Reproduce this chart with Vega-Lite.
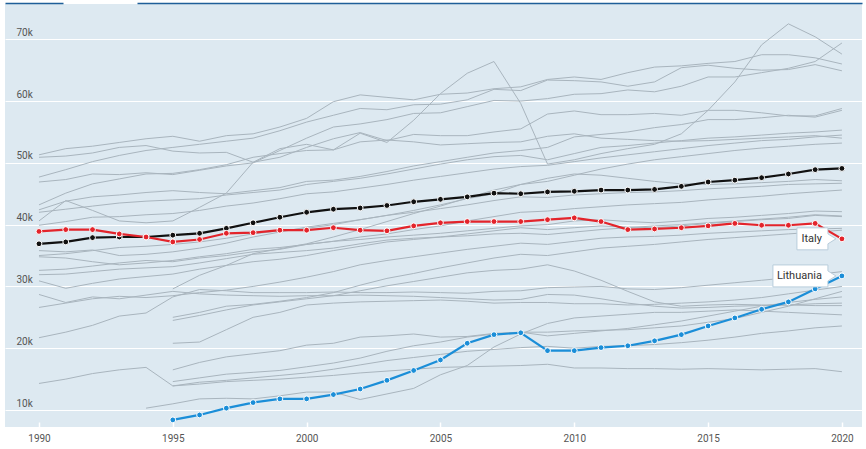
{
"$schema": "https://vega.github.io/schema/vega-lite/v6.json",
"width": 857, "height": 423,
"autosize": {"type": "none"},
"padding": {"left": 5, "top": 4, "right": 4, "bottom": 22},
"background": "#ffffff",
"config": {"view": {"fill": "#dde9f1", "stroke": null}, "font": "Roboto", "axis": {"labelFont": "Roboto"}},
"datasets": {
"grey": [
{"country":"c01","year":1990,"value":51.3},{"country":"c01","year":1991,"value":52.3},{"country":"c01","year":1992,"value":52.7},{"country":"c01","year":1993,"value":53.3},{"country":"c01","year":1994,"value":53.9},{"country":"c01","year":1995,"value":54.3},{"country":"c01","year":1996,"value":53.5},{"country":"c01","year":1997,"value":54.4},{"country":"c01","year":1998,"value":54.7},{"country":"c01","year":1999,"value":55.8},{"country":"c01","year":2000,"value":57.2},{"country":"c01","year":2001,"value":59.9},{"country":"c01","year":2002,"value":61.0},{"country":"c01","year":2003,"value":60.6},{"country":"c01","year":2004,"value":60.2},{"country":"c01","year":2005,"value":61.1},{"country":"c01","year":2006,"value":61.3},{"country":"c01","year":2007,"value":62.0},{"country":"c01","year":2008,"value":62.3},{"country":"c01","year":2009,"value":63.5},{"country":"c01","year":2010,"value":63.9},{"country":"c01","year":2011,"value":63.5},{"country":"c01","year":2012,"value":64.6},{"country":"c01","year":2013,"value":65.5},{"country":"c01","year":2014,"value":65.7},{"country":"c01","year":2015,"value":66.1},{"country":"c01","year":2016,"value":66.4},{"country":"c01","year":2017,"value":67.5},{"country":"c01","year":2018,"value":67.5},{"country":"c01","year":2019,"value":67.0},{"country":"c01","year":2020,"value":66.0},
{"country":"c02","year":1990,"value":47.7},{"country":"c02","year":1991,"value":48.9},{"country":"c02","year":1992,"value":50.2},{"country":"c02","year":1993,"value":51.2},{"country":"c02","year":1994,"value":52.0},{"country":"c02","year":1995,"value":52.5},{"country":"c02","year":1996,"value":53.0},{"country":"c02","year":1997,"value":53.5},{"country":"c02","year":1998,"value":54.0},{"country":"c02","year":1999,"value":55.2},{"country":"c02","year":2000,"value":56.6},{"country":"c02","year":2001,"value":57.7},{"country":"c02","year":2002,"value":58.8},{"country":"c02","year":2003,"value":58.6},{"country":"c02","year":2004,"value":59.4},{"country":"c02","year":2005,"value":59.5},{"country":"c02","year":2006,"value":60.2},{"country":"c02","year":2007,"value":61.9},{"country":"c02","year":2008,"value":61.7},{"country":"c02","year":2009,"value":63.4},{"country":"c02","year":2010,"value":63.3},{"country":"c02","year":2011,"value":63.1},{"country":"c02","year":2012,"value":62.4},{"country":"c02","year":2013,"value":63.1},{"country":"c02","year":2014,"value":65.4},{"country":"c02","year":2015,"value":65.8},{"country":"c02","year":2016,"value":65.3},{"country":"c02","year":2017,"value":65.0},{"country":"c02","year":2018,"value":65.1},{"country":"c02","year":2019,"value":65.9},{"country":"c02","year":2020,"value":64.9},
{"country":"c03","year":1990,"value":46.9},{"country":"c03","year":1991,"value":47.3},{"country":"c03","year":1992,"value":48.2},{"country":"c03","year":1993,"value":48.1},{"country":"c03","year":1994,"value":48.4},{"country":"c03","year":1995,"value":48.1},{"country":"c03","year":1996,"value":48.8},{"country":"c03","year":1997,"value":49.5},{"country":"c03","year":1998,"value":50.0},{"country":"c03","year":1999,"value":52.0},{"country":"c03","year":2000,"value":54.0},{"country":"c03","year":2001,"value":55.8},{"country":"c03","year":2002,"value":56.3},{"country":"c03","year":2003,"value":57.0},{"country":"c03","year":2004,"value":58.0},{"country":"c03","year":2005,"value":58.1},{"country":"c03","year":2006,"value":59.1},{"country":"c03","year":2007,"value":60.1},{"country":"c03","year":2008,"value":60.0},{"country":"c03","year":2009,"value":60.4},{"country":"c03","year":2010,"value":61.1},{"country":"c03","year":2011,"value":61.2},{"country":"c03","year":2012,"value":61.8},{"country":"c03","year":2013,"value":61.5},{"country":"c03","year":2014,"value":62.4},{"country":"c03","year":2015,"value":63.9},{"country":"c03","year":2016,"value":63.9},{"country":"c03","year":2017,"value":64.6},{"country":"c03","year":2018,"value":65.3},{"country":"c03","year":2019,"value":66.4},{"country":"c03","year":2020,"value":69.4},
{"country":"c04","year":1990,"value":43.2},{"country":"c04","year":1991,"value":45.1},{"country":"c04","year":1992,"value":46.6},{"country":"c04","year":1993,"value":47.4},{"country":"c04","year":1994,"value":48.2},{"country":"c04","year":1995,"value":48.3},{"country":"c04","year":1996,"value":48.9},{"country":"c04","year":1997,"value":49.7},{"country":"c04","year":1998,"value":50.9},{"country":"c04","year":1999,"value":51.5},{"country":"c04","year":2000,"value":52.0},{"country":"c04","year":2001,"value":52.1},{"country":"c04","year":2002,"value":54.8},{"country":"c04","year":2003,"value":53.3},{"country":"c04","year":2004,"value":56.9},{"country":"c04","year":2005,"value":61.2},{"country":"c04","year":2006,"value":64.5},{"country":"c04","year":2007,"value":66.4},{"country":"c04","year":2008,"value":59.6},{"country":"c04","year":2009,"value":49.8},{"country":"c04","year":2010,"value":50.5},{"country":"c04","year":2011,"value":51.5},{"country":"c04","year":2012,"value":52.3},{"country":"c04","year":2013,"value":53.0},{"country":"c04","year":2014,"value":54.7},{"country":"c04","year":2015,"value":58.5},{"country":"c04","year":2016,"value":63.1},{"country":"c04","year":2017,"value":69.1},{"country":"c04","year":2018,"value":72.5},{"country":"c04","year":2019,"value":70.4},{"country":"c04","year":2020,"value":67.6},
{"country":"c05","year":1990,"value":50.9},{"country":"c05","year":1991,"value":51.1},{"country":"c05","year":1992,"value":51.6},{"country":"c05","year":1993,"value":52.5},{"country":"c05","year":1994,"value":52.8},{"country":"c05","year":1995,"value":51.9},{"country":"c05","year":1996,"value":51.6},{"country":"c05","year":1997,"value":51.7},{"country":"c05","year":1998,"value":50.1},{"country":"c05","year":1999,"value":50.9},{"country":"c05","year":2000,"value":52.5},{"country":"c05","year":2001,"value":53.9},{"country":"c05","year":2002,"value":54.9},{"country":"c05","year":2003,"value":53.6},{"country":"c05","year":2004,"value":54.6},{"country":"c05","year":2005,"value":54.4},{"country":"c05","year":2006,"value":54.4},{"country":"c05","year":2007,"value":55.0},{"country":"c05","year":2008,"value":55.5},{"country":"c05","year":2009,"value":57.9},{"country":"c05","year":2010,"value":58.4},{"country":"c05","year":2011,"value":57.8},{"country":"c05","year":2012,"value":57.8},{"country":"c05","year":2013,"value":58.0},{"country":"c05","year":2014,"value":57.7},{"country":"c05","year":2015,"value":58.5},{"country":"c05","year":2016,"value":58.5},{"country":"c05","year":2017,"value":58.1},{"country":"c05","year":2018,"value":57.6},{"country":"c05","year":2019,"value":57.6},{"country":"c05","year":2020,"value":58.8},
{"country":"c06","year":1990,"value":42.4},{"country":"c06","year":1991,"value":43.8},{"country":"c06","year":1992,"value":44.5},{"country":"c06","year":1993,"value":44.8},{"country":"c06","year":1994,"value":45.2},{"country":"c06","year":1995,"value":45.5},{"country":"c06","year":1996,"value":45.2},{"country":"c06","year":1997,"value":45.0},{"country":"c06","year":1998,"value":45.5},{"country":"c06","year":1999,"value":46.0},{"country":"c06","year":2000,"value":47.0},{"country":"c06","year":2001,"value":47.2},{"country":"c06","year":2002,"value":47.8},{"country":"c06","year":2003,"value":48.6},{"country":"c06","year":2004,"value":49.5},{"country":"c06","year":2005,"value":50.2},{"country":"c06","year":2006,"value":50.9},{"country":"c06","year":2007,"value":51.6},{"country":"c06","year":2008,"value":52.0},{"country":"c06","year":2009,"value":52.5},{"country":"c06","year":2010,"value":54.2},{"country":"c06","year":2011,"value":54.6},{"country":"c06","year":2012,"value":55.0},{"country":"c06","year":2013,"value":55.7},{"country":"c06","year":2014,"value":56.2},{"country":"c06","year":2015,"value":57.0},{"country":"c06","year":2016,"value":57.0},{"country":"c06","year":2017,"value":57.3},{"country":"c06","year":2018,"value":57.7},{"country":"c06","year":2019,"value":57.4},{"country":"c06","year":2020,"value":58.5},
{"country":"c07","year":1990,"value":40.6},{"country":"c07","year":1991,"value":43.9},{"country":"c07","year":1992,"value":42.3},{"country":"c07","year":1993,"value":40.6},{"country":"c07","year":1994,"value":40.3},{"country":"c07","year":1995,"value":40.6},{"country":"c07","year":1996,"value":42.8},{"country":"c07","year":1997,"value":45.1},{"country":"c07","year":1998,"value":50.1},{"country":"c07","year":1999,"value":52.3},{"country":"c07","year":2000,"value":53.0},{"country":"c07","year":2001,"value":52.1},{"country":"c07","year":2002,"value":53.4},{"country":"c07","year":2003,"value":53.7},{"country":"c07","year":2004,"value":53.4},{"country":"c07","year":2005,"value":52.9},{"country":"c07","year":2006,"value":53.1},{"country":"c07","year":2007,"value":53.3},{"country":"c07","year":2008,"value":53.4},{"country":"c07","year":2009,"value":54.3},{"country":"c07","year":2010,"value":54.7},{"country":"c07","year":2011,"value":54.0},{"country":"c07","year":2012,"value":53.8},{"country":"c07","year":2013,"value":53.6},{"country":"c07","year":2014,"value":53.5},{"country":"c07","year":2015,"value":53.6},{"country":"c07","year":2016,"value":53.8},{"country":"c07","year":2017,"value":54.0},{"country":"c07","year":2018,"value":54.2},{"country":"c07","year":2019,"value":54.4},{"country":"c07","year":2020,"value":54.0},
{"country":"c08","year":1990,"value":42.0},{"country":"c08","year":1991,"value":42.5},{"country":"c08","year":1992,"value":43.0},{"country":"c08","year":1993,"value":43.5},{"country":"c08","year":1994,"value":43.8},{"country":"c08","year":1995,"value":44.0},{"country":"c08","year":1996,"value":44.2},{"country":"c08","year":1997,"value":44.8},{"country":"c08","year":1998,"value":45.2},{"country":"c08","year":1999,"value":45.6},{"country":"c08","year":2000,"value":46.5},{"country":"c08","year":2001,"value":47.0},{"country":"c08","year":2002,"value":47.5},{"country":"c08","year":2003,"value":48.2},{"country":"c08","year":2004,"value":49.0},{"country":"c08","year":2005,"value":49.8},{"country":"c08","year":2006,"value":50.5},{"country":"c08","year":2007,"value":51.0},{"country":"c08","year":2008,"value":51.2},{"country":"c08","year":2009,"value":50.5},{"country":"c08","year":2010,"value":51.5},{"country":"c08","year":2011,"value":52.5},{"country":"c08","year":2012,"value":52.8},{"country":"c08","year":2013,"value":53.2},{"country":"c08","year":2014,"value":53.6},{"country":"c08","year":2015,"value":54.0},{"country":"c08","year":2016,"value":54.2},{"country":"c08","year":2017,"value":54.5},{"country":"c08","year":2018,"value":54.8},{"country":"c08","year":2019,"value":55.0},{"country":"c08","year":2020,"value":55.3},
{"country":"c09","year":1990,"value":39.9},{"country":"c09","year":1991,"value":40.5},{"country":"c09","year":1992,"value":41.2},{"country":"c09","year":1993,"value":41.3},{"country":"c09","year":1994,"value":41.6},{"country":"c09","year":1995,"value":41.8},{"country":"c09","year":1996,"value":42.3},{"country":"c09","year":1997,"value":43.0},{"country":"c09","year":1998,"value":43.5},{"country":"c09","year":1999,"value":44.2},{"country":"c09","year":2000,"value":45.0},{"country":"c09","year":2001,"value":45.3},{"country":"c09","year":2002,"value":45.9},{"country":"c09","year":2003,"value":46.5},{"country":"c09","year":2004,"value":47.2},{"country":"c09","year":2005,"value":47.8},{"country":"c09","year":2006,"value":48.4},{"country":"c09","year":2007,"value":49.0},{"country":"c09","year":2008,"value":49.4},{"country":"c09","year":2009,"value":49.6},{"country":"c09","year":2010,"value":50.2},{"country":"c09","year":2011,"value":50.8},{"country":"c09","year":2012,"value":51.3},{"country":"c09","year":2013,"value":51.8},{"country":"c09","year":2014,"value":52.3},{"country":"c09","year":2015,"value":52.8},{"country":"c09","year":2016,"value":53.2},{"country":"c09","year":2017,"value":53.6},{"country":"c09","year":2018,"value":53.8},{"country":"c09","year":2019,"value":54.2},{"country":"c09","year":2020,"value":54.5},
{"country":"c10","year":1995,"value":29.6},{"country":"c10","year":1996,"value":31.8},{"country":"c10","year":1997,"value":33.4},{"country":"c10","year":1998,"value":35.3},{"country":"c10","year":1999,"value":36.1},{"country":"c10","year":2000,"value":36.9},{"country":"c10","year":2001,"value":38.0},{"country":"c10","year":2002,"value":39.2},{"country":"c10","year":2003,"value":40.5},{"country":"c10","year":2004,"value":41.8},{"country":"c10","year":2005,"value":43.0},{"country":"c10","year":2006,"value":44.3},{"country":"c10","year":2007,"value":45.6},{"country":"c10","year":2008,"value":46.5},{"country":"c10","year":2009,"value":47.0},{"country":"c10","year":2010,"value":48.0},{"country":"c10","year":2011,"value":49.0},{"country":"c10","year":2012,"value":49.8},{"country":"c10","year":2013,"value":50.5},{"country":"c10","year":2014,"value":51.0},{"country":"c10","year":2015,"value":51.5},{"country":"c10","year":2016,"value":52.0},{"country":"c10","year":2017,"value":52.4},{"country":"c10","year":2018,"value":52.7},{"country":"c10","year":2019,"value":53.0},{"country":"c10","year":2020,"value":53.2},
{"country":"c11","year":1990,"value":35.8},{"country":"c11","year":1991,"value":35.6},{"country":"c11","year":1992,"value":35.9},{"country":"c11","year":1993,"value":35.0},{"country":"c11","year":1994,"value":35.2},{"country":"c11","year":1995,"value":35.6},{"country":"c11","year":1996,"value":36.2},{"country":"c11","year":1997,"value":37.0},{"country":"c11","year":1998,"value":38.0},{"country":"c11","year":1999,"value":38.8},{"country":"c11","year":2000,"value":39.6},{"country":"c11","year":2001,"value":40.2},{"country":"c11","year":2002,"value":40.8},{"country":"c11","year":2003,"value":41.5},{"country":"c11","year":2004,"value":42.3},{"country":"c11","year":2005,"value":43.2},{"country":"c11","year":2006,"value":44.2},{"country":"c11","year":2007,"value":45.0},{"country":"c11","year":2008,"value":46.5},{"country":"c11","year":2009,"value":47.5},{"country":"c11","year":2010,"value":48.2},{"country":"c11","year":2011,"value":48.0},{"country":"c11","year":2012,"value":47.5},{"country":"c11","year":2013,"value":47.0},{"country":"c11","year":2014,"value":46.6},{"country":"c11","year":2015,"value":46.5},{"country":"c11","year":2016,"value":46.6},{"country":"c11","year":2017,"value":46.8},{"country":"c11","year":2018,"value":47.0},{"country":"c11","year":2019,"value":47.3},{"country":"c11","year":2020,"value":47.1},
{"country":"c12","year":1990,"value":35.0},{"country":"c12","year":1991,"value":35.3},{"country":"c12","year":1992,"value":35.8},{"country":"c12","year":1993,"value":36.3},{"country":"c12","year":1994,"value":36.5},{"country":"c12","year":1995,"value":36.8},{"country":"c12","year":1996,"value":37.2},{"country":"c12","year":1997,"value":37.8},{"country":"c12","year":1998,"value":38.5},{"country":"c12","year":1999,"value":39.0},{"country":"c12","year":2000,"value":39.4},{"country":"c12","year":2001,"value":40.0},{"country":"c12","year":2002,"value":40.8},{"country":"c12","year":2003,"value":41.5},{"country":"c12","year":2004,"value":42.0},{"country":"c12","year":2005,"value":42.6},{"country":"c12","year":2006,"value":43.2},{"country":"c12","year":2007,"value":43.9},{"country":"c12","year":2008,"value":44.5},{"country":"c12","year":2009,"value":44.4},{"country":"c12","year":2010,"value":44.8},{"country":"c12","year":2011,"value":45.0},{"country":"c12","year":2012,"value":45.2},{"country":"c12","year":2013,"value":45.3},{"country":"c12","year":2014,"value":45.5},{"country":"c12","year":2015,"value":45.8},{"country":"c12","year":2016,"value":46.0},{"country":"c12","year":2017,"value":46.2},{"country":"c12","year":2018,"value":46.5},{"country":"c12","year":2019,"value":46.6},{"country":"c12","year":2020,"value":46.7},
{"country":"c13","year":1990,"value":34.8},{"country":"c13","year":1991,"value":34.6},{"country":"c13","year":1992,"value":34.0},{"country":"c13","year":1993,"value":33.5},{"country":"c13","year":1994,"value":33.8},{"country":"c13","year":1995,"value":34.2},{"country":"c13","year":1996,"value":34.8},{"country":"c13","year":1997,"value":35.3},{"country":"c13","year":1998,"value":36.0},{"country":"c13","year":1999,"value":36.3},{"country":"c13","year":2000,"value":36.8},{"country":"c13","year":2001,"value":37.3},{"country":"c13","year":2002,"value":38.0},{"country":"c13","year":2003,"value":38.5},{"country":"c13","year":2004,"value":39.2},{"country":"c13","year":2005,"value":39.8},{"country":"c13","year":2006,"value":40.6},{"country":"c13","year":2007,"value":41.3},{"country":"c13","year":2008,"value":42.0},{"country":"c13","year":2009,"value":42.2},{"country":"c13","year":2010,"value":42.6},{"country":"c13","year":2011,"value":42.9},{"country":"c13","year":2012,"value":43.2},{"country":"c13","year":2013,"value":43.4},{"country":"c13","year":2014,"value":43.6},{"country":"c13","year":2015,"value":44.0},{"country":"c13","year":2016,"value":44.3},{"country":"c13","year":2017,"value":44.6},{"country":"c13","year":2018,"value":45.0},{"country":"c13","year":2019,"value":45.3},{"country":"c13","year":2020,"value":45.6},
{"country":"c14","year":1990,"value":32.6},{"country":"c14","year":1991,"value":32.8},{"country":"c14","year":1992,"value":33.3},{"country":"c14","year":1993,"value":33.8},{"country":"c14","year":1994,"value":34.2},{"country":"c14","year":1995,"value":34.0},{"country":"c14","year":1996,"value":34.6},{"country":"c14","year":1997,"value":35.0},{"country":"c14","year":1998,"value":35.6},{"country":"c14","year":1999,"value":36.0},{"country":"c14","year":2000,"value":36.8},{"country":"c14","year":2001,"value":37.3},{"country":"c14","year":2002,"value":37.6},{"country":"c14","year":2003,"value":38.0},{"country":"c14","year":2004,"value":38.3},{"country":"c14","year":2005,"value":38.6},{"country":"c14","year":2006,"value":39.0},{"country":"c14","year":2007,"value":39.4},{"country":"c14","year":2008,"value":39.8},{"country":"c14","year":2009,"value":40.0},{"country":"c14","year":2010,"value":40.6},{"country":"c14","year":2011,"value":40.8},{"country":"c14","year":2012,"value":40.5},{"country":"c14","year":2013,"value":40.3},{"country":"c14","year":2014,"value":40.6},{"country":"c14","year":2015,"value":41.0},{"country":"c14","year":2016,"value":41.2},{"country":"c14","year":2017,"value":41.5},{"country":"c14","year":2018,"value":41.8},{"country":"c14","year":2019,"value":42.2},{"country":"c14","year":2020,"value":42.1},
{"country":"c15","year":1990,"value":31.9},{"country":"c15","year":1991,"value":32.0},{"country":"c15","year":1992,"value":32.4},{"country":"c15","year":1993,"value":32.8},{"country":"c15","year":1994,"value":33.0},{"country":"c15","year":1995,"value":33.2},{"country":"c15","year":1996,"value":33.8},{"country":"c15","year":1997,"value":34.5},{"country":"c15","year":1998,"value":35.2},{"country":"c15","year":1999,"value":35.5},{"country":"c15","year":2000,"value":35.8},{"country":"c15","year":2001,"value":36.2},{"country":"c15","year":2002,"value":36.9},{"country":"c15","year":2003,"value":37.5},{"country":"c15","year":2004,"value":37.8},{"country":"c15","year":2005,"value":38.0},{"country":"c15","year":2006,"value":38.2},{"country":"c15","year":2007,"value":38.5},{"country":"c15","year":2008,"value":38.6},{"country":"c15","year":2009,"value":38.4},{"country":"c15","year":2010,"value":38.8},{"country":"c15","year":2011,"value":39.2},{"country":"c15","year":2012,"value":39.5},{"country":"c15","year":2013,"value":39.8},{"country":"c15","year":2014,"value":40.0},{"country":"c15","year":2015,"value":40.3},{"country":"c15","year":2016,"value":40.6},{"country":"c15","year":2017,"value":40.9},{"country":"c15","year":2018,"value":41.2},{"country":"c15","year":2019,"value":41.6},{"country":"c15","year":2020,"value":41.4},
{"country":"c16","year":1990,"value":30.9},{"country":"c16","year":1991,"value":29.7},{"country":"c16","year":1992,"value":30.5},{"country":"c16","year":1993,"value":31.2},{"country":"c16","year":1994,"value":31.6},{"country":"c16","year":1995,"value":32.0},{"country":"c16","year":1996,"value":32.8},{"country":"c16","year":1997,"value":33.4},{"country":"c16","year":1998,"value":34.0},{"country":"c16","year":1999,"value":34.4},{"country":"c16","year":2000,"value":35.0},{"country":"c16","year":2001,"value":35.8},{"country":"c16","year":2002,"value":36.5},{"country":"c16","year":2003,"value":37.2},{"country":"c16","year":2004,"value":37.6},{"country":"c16","year":2005,"value":38.0},{"country":"c16","year":2006,"value":38.5},{"country":"c16","year":2007,"value":39.0},{"country":"c16","year":2008,"value":39.5},{"country":"c16","year":2009,"value":39.2},{"country":"c16","year":2010,"value":39.5},{"country":"c16","year":2011,"value":39.8},{"country":"c16","year":2012,"value":39.6},{"country":"c16","year":2013,"value":39.5},{"country":"c16","year":2014,"value":39.8},{"country":"c16","year":2015,"value":40.2},{"country":"c16","year":2016,"value":40.5},{"country":"c16","year":2017,"value":40.8},{"country":"c16","year":2018,"value":41.0},{"country":"c16","year":2019,"value":41.5},{"country":"c16","year":2020,"value":41.3},
{"country":"c17","year":1990,"value":26.6},{"country":"c17","year":1991,"value":27.3},{"country":"c17","year":1992,"value":28.0},{"country":"c17","year":1993,"value":28.4},{"country":"c17","year":1994,"value":28.2},{"country":"c17","year":1995,"value":28.5},{"country":"c17","year":1996,"value":29.0},{"country":"c17","year":1997,"value":29.4},{"country":"c17","year":1998,"value":30.0},{"country":"c17","year":1999,"value":30.7},{"country":"c17","year":2000,"value":31.5},{"country":"c17","year":2001,"value":32.4},{"country":"c17","year":2002,"value":33.5},{"country":"c17","year":2003,"value":34.2},{"country":"c17","year":2004,"value":34.8},{"country":"c17","year":2005,"value":35.4},{"country":"c17","year":2006,"value":36.0},{"country":"c17","year":2007,"value":36.5},{"country":"c17","year":2008,"value":37.0},{"country":"c17","year":2009,"value":36.8},{"country":"c17","year":2010,"value":37.3},{"country":"c17","year":2011,"value":37.8},{"country":"c17","year":2012,"value":38.0},{"country":"c17","year":2013,"value":38.1},{"country":"c17","year":2014,"value":38.3},{"country":"c17","year":2015,"value":38.6},{"country":"c17","year":2016,"value":38.8},{"country":"c17","year":2017,"value":39.0},{"country":"c17","year":2018,"value":39.2},{"country":"c17","year":2019,"value":39.3},{"country":"c17","year":2020,"value":39.4},
{"country":"c18","year":1995,"value":25.0},{"country":"c18","year":1996,"value":25.8},{"country":"c18","year":1997,"value":26.8},{"country":"c18","year":1998,"value":27.1},{"country":"c18","year":1999,"value":27.6},{"country":"c18","year":2000,"value":28.2},{"country":"c18","year":2001,"value":29.0},{"country":"c18","year":2002,"value":30.2},{"country":"c18","year":2003,"value":31.3},{"country":"c18","year":2004,"value":32.1},{"country":"c18","year":2005,"value":33.0},{"country":"c18","year":2006,"value":33.8},{"country":"c18","year":2007,"value":34.6},{"country":"c18","year":2008,"value":35.2},{"country":"c18","year":2009,"value":35.0},{"country":"c18","year":2010,"value":35.6},{"country":"c18","year":2011,"value":36.2},{"country":"c18","year":2012,"value":36.5},{"country":"c18","year":2013,"value":36.8},{"country":"c18","year":2014,"value":37.2},{"country":"c18","year":2015,"value":37.6},{"country":"c18","year":2016,"value":37.9},{"country":"c18","year":2017,"value":38.2},{"country":"c18","year":2018,"value":38.5},{"country":"c18","year":2019,"value":38.8},{"country":"c18","year":2020,"value":39.1},
{"country":"c19","year":1990,"value":28.7},{"country":"c19","year":1991,"value":27.4},{"country":"c19","year":1992,"value":28.3},{"country":"c19","year":1993,"value":28.0},{"country":"c19","year":1994,"value":28.6},{"country":"c19","year":1995,"value":29.2},{"country":"c19","year":1996,"value":28.8},{"country":"c19","year":1997,"value":28.6},{"country":"c19","year":1998,"value":28.5},{"country":"c19","year":1999,"value":28.4},{"country":"c19","year":2000,"value":28.5},{"country":"c19","year":2001,"value":28.5},{"country":"c19","year":2002,"value":28.6},{"country":"c19","year":2003,"value":28.5},{"country":"c19","year":2004,"value":28.4},{"country":"c19","year":2005,"value":28.2},{"country":"c19","year":2006,"value":28.0},{"country":"c19","year":2007,"value":27.8},{"country":"c19","year":2008,"value":27.9},{"country":"c19","year":2009,"value":28.7},{"country":"c19","year":2010,"value":28.6},{"country":"c19","year":2011,"value":28.0},{"country":"c19","year":2012,"value":27.3},{"country":"c19","year":2013,"value":26.8},{"country":"c19","year":2014,"value":26.5},{"country":"c19","year":2015,"value":26.6},{"country":"c19","year":2016,"value":26.8},{"country":"c19","year":2017,"value":26.9},{"country":"c19","year":2018,"value":27.0},{"country":"c19","year":2019,"value":27.2},{"country":"c19","year":2020,"value":27.3},
{"country":"c20","year":1995,"value":24.5},{"country":"c20","year":1996,"value":25.3},{"country":"c20","year":1997,"value":26.2},{"country":"c20","year":1998,"value":27.0},{"country":"c20","year":1999,"value":27.5},{"country":"c20","year":2000,"value":28.0},{"country":"c20","year":2001,"value":28.5},{"country":"c20","year":2002,"value":29.3},{"country":"c20","year":2003,"value":30.1},{"country":"c20","year":2004,"value":30.8},{"country":"c20","year":2005,"value":31.5},{"country":"c20","year":2006,"value":32.2},{"country":"c20","year":2007,"value":32.6},{"country":"c20","year":2008,"value":32.8},{"country":"c20","year":2009,"value":33.5},{"country":"c20","year":2010,"value":32.5},{"country":"c20","year":2011,"value":31.0},{"country":"c20","year":2012,"value":29.2},{"country":"c20","year":2013,"value":27.5},{"country":"c20","year":2014,"value":26.8},{"country":"c20","year":2015,"value":27.0},{"country":"c20","year":2016,"value":27.1},{"country":"c20","year":2017,"value":27.0},{"country":"c20","year":2018,"value":27.0},{"country":"c20","year":2019,"value":26.9},{"country":"c20","year":2020,"value":26.9},
{"country":"c21","year":1990,"value":21.7},{"country":"c21","year":1991,"value":22.6},{"country":"c21","year":1992,"value":23.7},{"country":"c21","year":1993,"value":25.2},{"country":"c21","year":1994,"value":25.7},{"country":"c21","year":1995,"value":28.3},{"country":"c21","year":1996,"value":29.5},{"country":"c21","year":1997,"value":29.3},{"country":"c21","year":1998,"value":29.0},{"country":"c21","year":1999,"value":29.0},{"country":"c21","year":2000,"value":29.0},{"country":"c21","year":2001,"value":29.1},{"country":"c21","year":2002,"value":29.0},{"country":"c21","year":2003,"value":29.0},{"country":"c21","year":2004,"value":29.1},{"country":"c21","year":2005,"value":29.0},{"country":"c21","year":2006,"value":28.9},{"country":"c21","year":2007,"value":29.2},{"country":"c21","year":2008,"value":29.3},{"country":"c21","year":2009,"value":29.8},{"country":"c21","year":2010,"value":29.9},{"country":"c21","year":2011,"value":30.0},{"country":"c21","year":2012,"value":29.6},{"country":"c21","year":2013,"value":29.5},{"country":"c21","year":2014,"value":29.8},{"country":"c21","year":2015,"value":30.2},{"country":"c21","year":2016,"value":30.6},{"country":"c21","year":2017,"value":31.0},{"country":"c21","year":2018,"value":31.4},{"country":"c21","year":2019,"value":31.9},{"country":"c21","year":2020,"value":32.4},
{"country":"c22","year":1995,"value":20.8},{"country":"c22","year":1996,"value":21.0},{"country":"c22","year":1997,"value":23.0},{"country":"c22","year":1998,"value":25.0},{"country":"c22","year":1999,"value":25.8},{"country":"c22","year":2000,"value":27.0},{"country":"c22","year":2001,"value":27.3},{"country":"c22","year":2002,"value":27.5},{"country":"c22","year":2003,"value":27.6},{"country":"c22","year":2004,"value":27.7},{"country":"c22","year":2005,"value":27.8},{"country":"c22","year":2006,"value":27.6},{"country":"c22","year":2007,"value":27.3},{"country":"c22","year":2008,"value":27.4},{"country":"c22","year":2009,"value":27.4},{"country":"c22","year":2010,"value":27.2},{"country":"c22","year":2011,"value":27.2},{"country":"c22","year":2012,"value":27.0},{"country":"c22","year":2013,"value":27.1},{"country":"c22","year":2014,"value":27.3},{"country":"c22","year":2015,"value":27.5},{"country":"c22","year":2016,"value":27.8},{"country":"c22","year":2017,"value":28.2},{"country":"c22","year":2018,"value":28.8},{"country":"c22","year":2019,"value":29.4},{"country":"c22","year":2020,"value":30.0},
{"country":"c23","year":1995,"value":16.5},{"country":"c23","year":1996,"value":17.7},{"country":"c23","year":1997,"value":18.6},{"country":"c23","year":1998,"value":19.1},{"country":"c23","year":1999,"value":19.6},{"country":"c23","year":2000,"value":20.5},{"country":"c23","year":2001,"value":20.8},{"country":"c23","year":2002,"value":21.8},{"country":"c23","year":2003,"value":22.0},{"country":"c23","year":2004,"value":22.3},{"country":"c23","year":2005,"value":21.8},{"country":"c23","year":2006,"value":21.9},{"country":"c23","year":2007,"value":22.4},{"country":"c23","year":2008,"value":22.6},{"country":"c23","year":2009,"value":22.6},{"country":"c23","year":2010,"value":22.8},{"country":"c23","year":2011,"value":22.9},{"country":"c23","year":2012,"value":23.0},{"country":"c23","year":2013,"value":23.3},{"country":"c23","year":2014,"value":23.6},{"country":"c23","year":2015,"value":24.2},{"country":"c23","year":2016,"value":24.8},{"country":"c23","year":2017,"value":25.8},{"country":"c23","year":2018,"value":26.8},{"country":"c23","year":2019,"value":28.0},{"country":"c23","year":2020,"value":29.2},
{"country":"c24","year":1995,"value":14.6},{"country":"c24","year":1996,"value":15.2},{"country":"c24","year":1997,"value":15.8},{"country":"c24","year":1998,"value":16.1},{"country":"c24","year":1999,"value":16.4},{"country":"c24","year":2000,"value":17.0},{"country":"c24","year":2001,"value":17.6},{"country":"c24","year":2002,"value":18.4},{"country":"c24","year":2003,"value":19.5},{"country":"c24","year":2004,"value":20.4},{"country":"c24","year":2005,"value":21.0},{"country":"c24","year":2006,"value":21.8},{"country":"c24","year":2007,"value":22.3},{"country":"c24","year":2008,"value":22.6},{"country":"c24","year":2009,"value":22.0},{"country":"c24","year":2010,"value":22.4},{"country":"c24","year":2011,"value":22.8},{"country":"c24","year":2012,"value":23.2},{"country":"c24","year":2013,"value":23.8},{"country":"c24","year":2014,"value":24.4},{"country":"c24","year":2015,"value":25.2},{"country":"c24","year":2016,"value":26.0},{"country":"c24","year":2017,"value":26.8},{"country":"c24","year":2018,"value":27.4},{"country":"c24","year":2019,"value":27.9},{"country":"c24","year":2020,"value":28.3},
{"country":"c25","year":1994,"value":10.3},{"country":"c25","year":1995,"value":11.0},{"country":"c25","year":1996,"value":11.8},{"country":"c25","year":1997,"value":11.9},{"country":"c25","year":1998,"value":11.8},{"country":"c25","year":1999,"value":12.3},{"country":"c25","year":2000,"value":12.9},{"country":"c25","year":2001,"value":12.9},{"country":"c25","year":2002,"value":11.7},{"country":"c25","year":2003,"value":12.6},{"country":"c25","year":2004,"value":13.5},{"country":"c25","year":2005,"value":15.7},{"country":"c25","year":2006,"value":17.2},{"country":"c25","year":2007,"value":20.2},{"country":"c25","year":2008,"value":22.3},{"country":"c25","year":2009,"value":24.0},{"country":"c25","year":2010,"value":24.9},{"country":"c25","year":2011,"value":25.2},{"country":"c25","year":2012,"value":25.5},{"country":"c25","year":2013,"value":25.8},{"country":"c25","year":2014,"value":25.8},{"country":"c25","year":2015,"value":26.0},{"country":"c25","year":2016,"value":26.2},{"country":"c25","year":2017,"value":26.0},{"country":"c25","year":2018,"value":25.8},{"country":"c25","year":2019,"value":25.6},{"country":"c25","year":2020,"value":25.4},
{"country":"c26","year":1990,"value":14.3},{"country":"c26","year":1991,"value":15.0},{"country":"c26","year":1992,"value":15.9},{"country":"c26","year":1993,"value":16.5},{"country":"c26","year":1994,"value":16.9},{"country":"c26","year":1995,"value":13.9},{"country":"c26","year":1996,"value":14.5},{"country":"c26","year":1997,"value":14.8},{"country":"c26","year":1998,"value":15.2},{"country":"c26","year":1999,"value":15.6},{"country":"c26","year":2000,"value":16.0},{"country":"c26","year":2001,"value":16.6},{"country":"c26","year":2002,"value":17.3},{"country":"c26","year":2003,"value":18.0},{"country":"c26","year":2004,"value":18.5},{"country":"c26","year":2005,"value":19.0},{"country":"c26","year":2006,"value":19.5},{"country":"c26","year":2007,"value":19.8},{"country":"c26","year":2008,"value":20.1},{"country":"c26","year":2009,"value":20.3},{"country":"c26","year":2010,"value":20.0},{"country":"c26","year":2011,"value":20.3},{"country":"c26","year":2012,"value":20.4},{"country":"c26","year":2013,"value":20.6},{"country":"c26","year":2014,"value":20.9},{"country":"c26","year":2015,"value":21.3},{"country":"c26","year":2016,"value":21.8},{"country":"c26","year":2017,"value":22.4},{"country":"c26","year":2018,"value":22.8},{"country":"c26","year":2019,"value":23.3},{"country":"c26","year":2020,"value":23.6},
{"country":"c27","year":1995,"value":13.9},{"country":"c27","year":1996,"value":14.2},{"country":"c27","year":1997,"value":14.6},{"country":"c27","year":1998,"value":14.8},{"country":"c27","year":1999,"value":15.0},{"country":"c27","year":2000,"value":15.3},{"country":"c27","year":2001,"value":15.6},{"country":"c27","year":2002,"value":16.0},{"country":"c27","year":2003,"value":16.3},{"country":"c27","year":2004,"value":16.6},{"country":"c27","year":2005,"value":16.9},{"country":"c27","year":2006,"value":17.0},{"country":"c27","year":2007,"value":17.1},{"country":"c27","year":2008,"value":17.2},{"country":"c27","year":2009,"value":17.4},{"country":"c27","year":2010,"value":16.8},{"country":"c27","year":2011,"value":16.8},{"country":"c27","year":2012,"value":16.7},{"country":"c27","year":2013,"value":16.7},{"country":"c27","year":2014,"value":16.6},{"country":"c27","year":2015,"value":16.7},{"country":"c27","year":2016,"value":16.6},{"country":"c27","year":2017,"value":16.5},{"country":"c27","year":2018,"value":16.6},{"country":"c27","year":2019,"value":16.7},{"country":"c27","year":2020,"value":16.2}
],
"main": [
{"country":"OECD","year":1990,"value":36.9},{"country":"OECD","year":1991,"value":37.2},{"country":"OECD","year":1992,"value":37.9},{"country":"OECD","year":1993,"value":38.0},{"country":"OECD","year":1994,"value":38.0},{"country":"OECD","year":1995,"value":38.3},{"country":"OECD","year":1996,"value":38.6},{"country":"OECD","year":1997,"value":39.4},{"country":"OECD","year":1998,"value":40.3},{"country":"OECD","year":1999,"value":41.2},{"country":"OECD","year":2000,"value":42.0},{"country":"OECD","year":2001,"value":42.5},{"country":"OECD","year":2002,"value":42.7},{"country":"OECD","year":2003,"value":43.1},{"country":"OECD","year":2004,"value":43.7},{"country":"OECD","year":2005,"value":44.1},{"country":"OECD","year":2006,"value":44.5},{"country":"OECD","year":2007,"value":45.1},{"country":"OECD","year":2008,"value":45.0},{"country":"OECD","year":2009,"value":45.3},{"country":"OECD","year":2010,"value":45.4},{"country":"OECD","year":2011,"value":45.6},{"country":"OECD","year":2012,"value":45.6},{"country":"OECD","year":2013,"value":45.7},{"country":"OECD","year":2014,"value":46.2},{"country":"OECD","year":2015,"value":46.9},{"country":"OECD","year":2016,"value":47.2},{"country":"OECD","year":2017,"value":47.6},{"country":"OECD","year":2018,"value":48.2},{"country":"OECD","year":2019,"value":48.9},{"country":"OECD","year":2020,"value":49.1},
{"country":"Italy","year":1990,"value":38.9},{"country":"Italy","year":1991,"value":39.2},{"country":"Italy","year":1992,"value":39.2},{"country":"Italy","year":1993,"value":38.5},{"country":"Italy","year":1994,"value":38.0},{"country":"Italy","year":1995,"value":37.2},{"country":"Italy","year":1996,"value":37.6},{"country":"Italy","year":1997,"value":38.6},{"country":"Italy","year":1998,"value":38.7},{"country":"Italy","year":1999,"value":39.1},{"country":"Italy","year":2000,"value":39.1},{"country":"Italy","year":2001,"value":39.5},{"country":"Italy","year":2002,"value":39.1},{"country":"Italy","year":2003,"value":39.0},{"country":"Italy","year":2004,"value":39.8},{"country":"Italy","year":2005,"value":40.3},{"country":"Italy","year":2006,"value":40.5},{"country":"Italy","year":2007,"value":40.5},{"country":"Italy","year":2008,"value":40.5},{"country":"Italy","year":2009,"value":40.8},{"country":"Italy","year":2010,"value":41.1},{"country":"Italy","year":2011,"value":40.5},{"country":"Italy","year":2012,"value":39.2},{"country":"Italy","year":2013,"value":39.3},{"country":"Italy","year":2014,"value":39.5},{"country":"Italy","year":2015,"value":39.8},{"country":"Italy","year":2016,"value":40.2},{"country":"Italy","year":2017,"value":39.9},{"country":"Italy","year":2018,"value":39.9},{"country":"Italy","year":2019,"value":40.2},{"country":"Italy","year":2020,"value":37.7},
{"country":"Lithuania","year":1995,"value":8.4},{"country":"Lithuania","year":1996,"value":9.2},{"country":"Lithuania","year":1997,"value":10.3},{"country":"Lithuania","year":1998,"value":11.2},{"country":"Lithuania","year":1999,"value":11.8},{"country":"Lithuania","year":2000,"value":11.8},{"country":"Lithuania","year":2001,"value":12.5},{"country":"Lithuania","year":2002,"value":13.4},{"country":"Lithuania","year":2003,"value":14.8},{"country":"Lithuania","year":2004,"value":16.4},{"country":"Lithuania","year":2005,"value":18.1},{"country":"Lithuania","year":2006,"value":20.8},{"country":"Lithuania","year":2007,"value":22.2},{"country":"Lithuania","year":2008,"value":22.5},{"country":"Lithuania","year":2009,"value":19.6},{"country":"Lithuania","year":2010,"value":19.6},{"country":"Lithuania","year":2011,"value":20.1},{"country":"Lithuania","year":2012,"value":20.4},{"country":"Lithuania","year":2013,"value":21.2},{"country":"Lithuania","year":2014,"value":22.2},{"country":"Lithuania","year":2015,"value":23.6},{"country":"Lithuania","year":2016,"value":24.9},{"country":"Lithuania","year":2017,"value":26.3},{"country":"Lithuania","year":2018,"value":27.5},{"country":"Lithuania","year":2019,"value":29.6},{"country":"Lithuania","year":2020,"value":31.7}
]
},
"resolve": {"axis": {"x": "independent", "y": "independent"}},
"layer": [
{
"data": {"name": "grey"},
"mark": {"type": "line", "color": "#a9b5be", "strokeWidth": 1},
"encoding": {
"x": {"field": "year", "type": "quantitative", "scale": {"domain": [1988.73, 2020.75], "nice": false, "zero": false},
"axis": {"orient": "bottom", "values": [1990, 1995, 2000, 2005, 2010, 2015, 2020], "format": "d", "title": null, "domain": false, "grid": false, "ticks": true, "tickColor": "#ffffff", "tickSize": -5, "tickWidth": 1.5, "labelPadding": 11, "labelColor": "#555555", "labelFontSize": 10, "labelOverlap": false}},
"y": {"field": "value", "type": "quantitative", "scale": {"domain": [7.25, 75.71], "nice": false, "zero": false},
"axis": {"values": [10, 20, 30, 40, 50, 60, 70], "labelExpr": "datum.value + 'k'", "title": null, "domain": false, "ticks": false, "grid": true, "gridColor": "#ffffff", "gridWidth": 1, "labelAlign": "left", "labelPadding": -11, "labelBaseline": "alphabetic", "labelOffset": -4, "labelColor": "#555555", "labelFontSize": 10, "labelOverlap": false}},
"detail": {"field": "country"}
}
},
{
"data": {"name": "main"},
"mark": {"type": "line", "strokeWidth": 2.2},
"encoding": {
"x": {"field": "year", "type": "quantitative", "axis": {"orient": "top", "labels": false, "ticks": false, "grid": false, "title": null, "domain": true, "domainColor": "#1f5f99", "domainWidth": 1.5, "domainDash": [58, 74, 900], "offset": 1}},
"y": {"field": "value", "type": "quantitative", "axis": null},
"color": {"field": "country", "type": "nominal", "scale": {"domain": ["OECD", "Italy", "Lithuania"], "range": ["#111111", "#e3242b", "#1b8ed8"]}, "legend": null}
}
},
{
"data": {"name": "main"},
"mark": {"type": "circle", "size": 34, "opacity": 1, "stroke": "#ffffff", "strokeWidth": 1},
"encoding": {
"x": {"field": "year", "type": "quantitative", "axis": null},
"y": {"field": "value", "type": "quantitative", "axis": null},
"color": {"field": "country", "type": "nominal", "scale": {"domain": ["OECD", "Italy", "Lithuania"], "range": ["#111111", "#e3242b", "#1b8ed8"]}, "legend": null}
}
},
{
"data": {"name": "main"},
"transform": [{"filter": "datum.country == 'Italy' && datum.year == 2020"}],
"mark": {"type": "point", "shape": "M-45,-11L-14,-11L-14,-5L-6,0L-14,5L-14,11L-45,11Z", "size": 4, "filled": true, "fill": "#ffffff", "stroke": "#b9cddb", "strokeWidth": 1, "opacity": 1},
"encoding": {
"x": {"field": "year", "type": "quantitative", "axis": null},
"y": {"field": "value", "type": "quantitative", "axis": null}
}
},
{
"data": {"name": "main"},
"transform": [{"filter": "datum.country == 'Lithuania' && datum.year == 2020"}],
"mark": {"type": "point", "shape": "M-69,-11L-14,-11L-14,-5L-6,0L-14,5L-14,11L-69,11Z", "size": 4, "filled": true, "fill": "#ffffff", "stroke": "#b9cddb", "strokeWidth": 1, "opacity": 1},
"encoding": {
"x": {"field": "year", "type": "quantitative", "axis": null},
"y": {"field": "value", "type": "quantitative", "axis": null}
}
},
{
"data": {"name": "main"},
"transform": [{"filter": "datum.country != 'OECD' && datum.year == 2020"}],
"mark": {"type": "text", "align": "right", "baseline": "middle", "dx": -20, "fontSize": 11, "font": "Roboto", "color": "#333333"},
"encoding": {
"x": {"field": "year", "type": "quantitative", "axis": null},
"y": {"field": "value", "type": "quantitative", "axis": null},
"text": {"field": "country"}
}
}
]
}
